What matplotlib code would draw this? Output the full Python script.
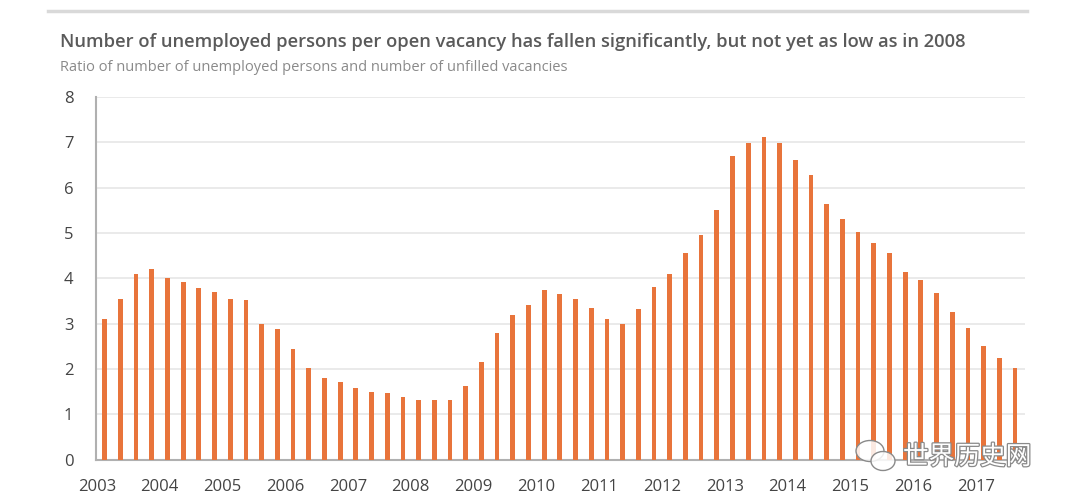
import matplotlib.pyplot as plt
import matplotlib.patheffects as pe
from matplotlib.patches import Ellipse
import numpy as np

## data: quarterly ratio, 2003 Q1 .. 2017 Q3
ratio = [3.10, 3.55, 4.10, 4.20, 4.00, 3.92, 3.78, 3.70, 3.55, 3.52,
         3.00, 2.88, 2.45, 2.03, 1.80, 1.72, 1.58, 1.50, 1.48, 1.38,
         1.32, 1.31, 1.32, 1.63, 2.15, 2.80, 3.20, 3.42, 3.75, 3.65,
         3.55, 3.35, 3.10, 3.00, 3.32, 3.82, 4.10, 4.55, 4.95, 5.50,
         6.70, 6.98, 7.12, 6.98, 6.62, 6.28, 5.65, 5.30, 5.02, 4.78,
         4.55, 4.15, 3.97, 3.67, 3.25, 2.90, 2.52, 2.25, 2.03]
start_year = 2003
years = list(range(2003, 2018))
yticks = list(range(0, 9))

title = 'Number of unemployed persons per open vacancy has fallen significantly, but not yet as low as in 2008'
subtitle = 'Ratio of number of unemployed persons and number of unfilled vacancies'

# bar centre sits in the middle of its quarter
quarters = start_year + (np.arange(len(ratio)) + 0.5) / 4.0

## plot
fig = plt.figure(figsize=(10.68, 5.03), dpi=100)
ax = fig.add_axes([0.0895, 0.086, 0.870, 0.721])

ax.bar(quarters, ratio, width=0.076, color='#e8743b', zorder=3)

## pretty~
ax.set_xlim(start_year - 0.02, 2017.78)
ax.set_ylim(0, 8)
ax.set_yticks(yticks)
ax.set_xticks(years)
ax.set_xticklabels([str(y) for y in years])
ax.tick_params(length=0, labelsize=12, colors='#444444')
ax.tick_params(axis='y', pad=16)
ax.tick_params(axis='x', pad=14)
for lab in ax.get_xticklabels() + ax.get_yticklabels():
    lab.set_fontfamily('Open Sans')

ax.grid(axis='y', color='#e6e6e6', linewidth=1.2, zorder=0)
for s in ['top', 'right']:
    ax.spines[s].set_visible(False)
ax.spines['left'].set_color('#b0b0b0')
ax.spines['left'].set_linewidth(1.5)
ax.spines['bottom'].set_color('#b0b0b0')
ax.spines['bottom'].set_linewidth(1.5)

# titles
fig.text(0.056, 0.916, title, fontsize=13.25, fontweight='semibold',
         color='#5a5a5a', family='Open Sans', va='center')
fig.text(0.056, 0.866, subtitle, fontsize=10.5, color='#8a8a8a',
         family='Open Sans', va='center')

# thin rule across the top
fig.add_artist(plt.Line2D([0.045, 0.962], [0.979, 0.979], color='#d9d9d9',
                          linewidth=2.5))

# watermark: wechat-ish bubbles + name
bubbles = [(870.0, 451.0, 28.0, 21.0), (883.0, 461.0, 24.0, 19.0)]
for bx, by, bw, bh in bubbles:
    fig.add_artist(Ellipse((bx / 1068.0, 1 - by / 503.0), bw / 1068.0, bh / 503.0,
                           transform=fig.transFigure, facecolor=(1, 1, 1, 0.85),
                           edgecolor='#8a8a8a', linewidth=1.0, zorder=5))
fig.text(0.966, 0.091, '世界历史网', fontsize=18.5, color='white',
         family=['Noto Sans CJK SC', 'DejaVu Sans'], ha='right', va='center',
         zorder=6,
         path_effects=[pe.withStroke(linewidth=1.8, foreground='#8a8a8a')])

plt.savefig('out.png', dpi=100)
